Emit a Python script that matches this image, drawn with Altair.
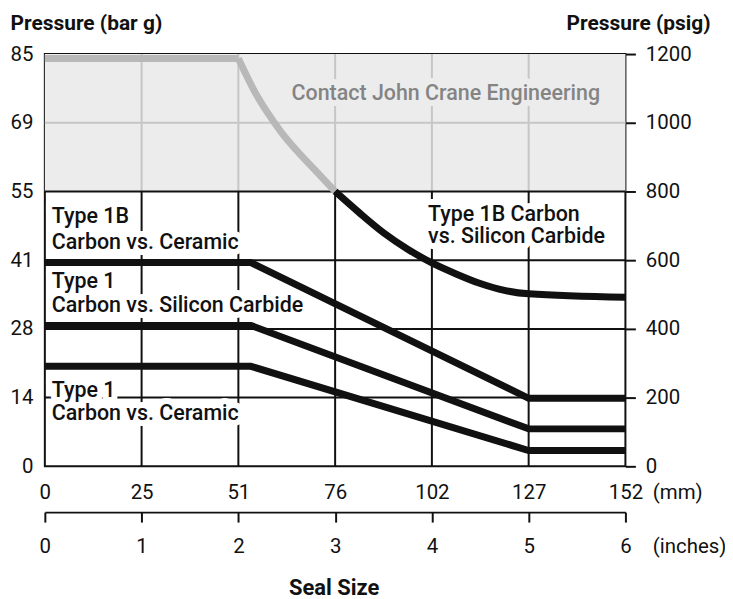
import altair as alt
import pandas as pd

# ---------------- axis ticks / labels ----------------
inch_ticks = [0, 1, 2, 3, 4, 5, 6]
mm_labels = ["0", "25", "51", "76", "102", "127", "152"]
psig_ticks = [0, 200, 400, 600, 800, 1000, 1200]
bar_labels = ["0", "14", "28", "41", "55", "69", "85"]

# ---------------- series (x: seal size in inches, y: psig) ----------------
gray_flat_x = [0, 2.0]
gray_flat_y = [1187, 1187]
gray_curve_x = [2.0, 2.08, 2.17, 2.3, 2.45, 2.6, 2.8, 3.0]
gray_curve_y = [1187, 1140, 1090, 1030, 970, 920, 860, 800]

t1b_sic_x = [3.0, 3.25, 3.5, 3.75, 4.0, 4.25, 4.5, 4.75, 5.0, 6.0]
t1b_sic_y = [800, 738, 680, 632, 592, 560, 532, 512, 502, 492]

t1b_cer_x = [0, 2.13, 5, 6]
t1b_cer_y = [593, 593, 198, 198]

t1_sic_x = [0, 2.13, 5, 6]
t1_sic_y = [410, 410, 109, 109]

t1_cer_x = [0, 2.13, 5, 6]
t1_cer_y = [291, 291, 46, 46]

# shaded "contact" region (psig)
contact_low, contact_high = 800, 1200

# annotations
ann_text = ["Type 1B", "Carbon vs. Ceramic", "Type 1", "Carbon vs. Silicon Carbide",
            "Type 1", "Carbon vs. Ceramic", "Type 1B Carbon", "vs. Silicon Carbide"]
ann_x = [0.072, 0.072, 0.072, 0.072, 0.072, 0.072, 3.96, 3.96]
ann_y = [725, 651, 535, 467, 220, 153, 732, 667]
contact_text = ["Contact John Crane Engineering"]
contact_x = [2.55]
contact_y = [1083]

FONT = "Roboto"
BLACK = "#111111"
GRID_GRAY = "#c6c6c6"

xs = alt.Scale(domain=[0, 6], nice=False, zero=False)
ys = alt.Scale(domain=[0, 1200], nice=False, zero=False)


def line_df(xv, yv):
    return pd.DataFrame({"x": xv, "y": yv})


mm_expr = f"{mm_labels}[indexof({inch_ticks}, datum.value)]"
bar_expr = f"{bar_labels}[indexof({psig_ticks}, datum.value)]"

# ---- shaded region layer (carries mm axis + bar axis) ----
shade_df = pd.DataFrame({"x0": [inch_ticks[0]], "x1": [inch_ticks[-1]],
                         "y0": [contact_low], "y1": [contact_high]})
shade = alt.Chart(shade_df).mark_rect(color="#ececec").encode(
    x=alt.X("x0:Q", scale=xs, axis=alt.Axis(
        orient="bottom", values=inch_ticks, labelExpr=mm_expr,
        domain=False, ticks=False, grid=False, labelFlush=False, labelOverlap=False,
        labelPadding=26, labelBaseline="middle", labelFont=FONT, labelFontSize=20.5,
        labelColor=BLACK,
        title="(mm)", titleX=610, titleY=26, titleAlign="left", titleBaseline="middle",
        titleAngle=0, titleFont=FONT, titleFontSize=20.5, titleFontWeight="normal",
        titleColor=BLACK)),
    x2="x1:Q",
    y=alt.Y("y0:Q", scale=ys, axis=alt.Axis(
        orient="left", values=psig_ticks, labelExpr=bar_expr,
        domain=False, ticks=False, grid=False, labelFlush=False, labelOverlap=False,
        labelPadding=12, labelBaseline="middle", labelFont=FONT, labelFontSize=20.5,
        labelColor=BLACK,
        title="Pressure (bar g)", titleX=-35, titleY=-30.5, titleAlign="left",
        titleBaseline="middle", titleAngle=0, titleFont=FONT, titleFontSize=21,
        titleFontWeight="bold", titleColor=BLACK)),
    y2="y1:Q",
)

# ---- gridlines ----
vb = pd.DataFrame({"x": inch_ticks[1:-1], "y0": contact_low, "y1": 0})
vg = pd.DataFrame({"x": inch_ticks[1:-1], "y0": contact_high, "y1": contact_low})
hb = pd.DataFrame({"y": [v for v in psig_ticks[1:-1] if v <= contact_low],
                   "x0": inch_ticks[0], "x1": inch_ticks[-1]})
hg = pd.DataFrame({"y": [v for v in psig_ticks[1:-1] if v > contact_low],
                   "x0": inch_ticks[0], "x1": inch_ticks[-1]})

grid_v_gray = alt.Chart(vg).mark_rule(color=GRID_GRAY, strokeWidth=2).encode(
    x=alt.X("x:Q", scale=xs, axis=None), y=alt.Y("y0:Q", scale=ys, axis=None), y2="y1:Q")
grid_h_gray = alt.Chart(hg).mark_rule(color=GRID_GRAY, strokeWidth=2).encode(
    y=alt.Y("y:Q", scale=ys, axis=None), x=alt.X("x0:Q", scale=xs, axis=None), x2="x1:Q")
grid_v_black = alt.Chart(vb).mark_rule(color=BLACK, strokeWidth=2).encode(
    x=alt.X("x:Q", scale=xs, axis=None), y=alt.Y("y0:Q", scale=ys, axis=None), y2="y1:Q")
grid_h_black = alt.Chart(hb).mark_rule(color=BLACK, strokeWidth=2).encode(
    y=alt.Y("y:Q", scale=ys, axis=None), x=alt.X("x0:Q", scale=xs, axis=None), x2="x1:Q")

# ---- text halos (break the gridlines behind labels) ----
ann_df = pd.DataFrame({"t": ann_text, "x": ann_x, "y": ann_y})
contact_df = pd.DataFrame({"t": contact_text, "x": contact_x, "y": contact_y})

text_kw = dict(align="left", baseline="middle", font=FONT, fontSize=21.5, fontWeight=500)


def text_layer(df, **kw):
    return alt.Chart(df).mark_text(**text_kw, **kw).encode(
        x=alt.X("x:Q", scale=xs, axis=None), y=alt.Y("y:Q", scale=ys, axis=None), text="t:N")


halo_black = text_layer(ann_df, fill="white", stroke="white", strokeWidth=12, strokeJoin="round")
halo_gray = text_layer(contact_df, fill="#ececec", stroke="#ececec", strokeWidth=12,
                       strokeJoin="round")


def line_layer(xv, yv, color, interp="linear"):
    return alt.Chart(line_df(xv, yv)).mark_line(
        color=color, strokeWidth=7, interpolate=interp, strokeCap="butt").encode(
        x=alt.X("x:Q", scale=xs, axis=None), y=alt.Y("y:Q", scale=ys, axis=None))


gray_flat = line_layer(gray_flat_x, gray_flat_y, "#b8b8b8")
gray_curve = line_layer(gray_curve_x, gray_curve_y, "#b8b8b8", "monotone")
sic_curve = line_layer(t1b_sic_x, t1b_sic_y, BLACK, "monotone")
l_t1b_cer = line_layer(t1b_cer_x, t1b_cer_y, BLACK)

# inches axis + psig axis carried by this line layer
l_t1_sic = alt.Chart(line_df(t1_sic_x, t1_sic_y)).mark_line(
    color=BLACK, strokeWidth=7, strokeCap="butt").encode(
    x=alt.X("x:Q", scale=xs, axis=alt.Axis(
        orient="bottom", offset=46, values=inch_ticks, format="d",
        domain=True, domainColor=BLACK, domainWidth=2,
        ticks=True, tickSize=10, tickWidth=2, tickColor=BLACK, grid=False,
        labelFlush=False, labelOverlap=False,
        labelPadding=25, labelBaseline="middle", labelFont=FONT, labelFontSize=20.5,
        labelColor=BLACK,
        title="(inches)", titleX=610, titleY=35, titleAlign="left", titleBaseline="middle",
        titleAngle=0, titleFont=FONT, titleFontSize=20.5, titleFontWeight="normal",
        titleColor=BLACK)),
    y=alt.Y("y:Q", scale=ys, axis=alt.Axis(
        orient="right", values=psig_ticks, format="d",
        domain=False, ticks=True, tickSize=10, tickWidth=2, tickColor=BLACK, grid=False,
        labelFlush=False, labelOverlap=False,
        labelPadding=10, labelBaseline="middle", labelFont=FONT, labelFontSize=20.5,
        labelColor=BLACK,
        title="Pressure (psig)", titleX=85, titleY=-30.5, titleAlign="right",
        titleBaseline="middle", titleAngle=0, titleFont=FONT, titleFontSize=21,
        titleFontWeight="bold", titleColor=BLACK)),
)

# "Seal Size" title carried by this layer's x axis
l_t1_cer = alt.Chart(line_df(t1_cer_x, t1_cer_y)).mark_line(
    color=BLACK, strokeWidth=7, strokeCap="butt").encode(
    x=alt.X("x:Q", scale=xs, axis=alt.Axis(
        orient="bottom", domain=False, ticks=False, labels=False, grid=False,
        title="Seal Size", titleX=290, titleY=122, titleAlign="center",
        titleBaseline="middle", titleAngle=0, titleFont=FONT, titleFontSize=22,
        titleFontWeight="bold", titleColor=BLACK)),
    y=alt.Y("y:Q", scale=ys, axis=None),
)

txt_black = text_layer(ann_df, color=BLACK)
txt_gray = text_layer(contact_df, color="#848484")

chart = alt.layer(
    shade, grid_v_gray, grid_h_gray, grid_v_black, grid_h_black,
    halo_black, halo_gray,
    gray_flat, gray_curve, sic_curve, l_t1b_cer, l_t1_sic, l_t1_cer,
    txt_black, txt_gray,
).resolve_axis(x="independent", y="independent").properties(
    width=583, height=414,
    autosize=alt.AutoSizeParams(type="none"),
    padding={"left": 37, "top": 45, "right": 100, "bottom": 132},
    background="white",
).configure_view(stroke=BLACK, strokeWidth=2)

chart.save("out.html", embed_options={"renderer": "svg", "actions": False})
